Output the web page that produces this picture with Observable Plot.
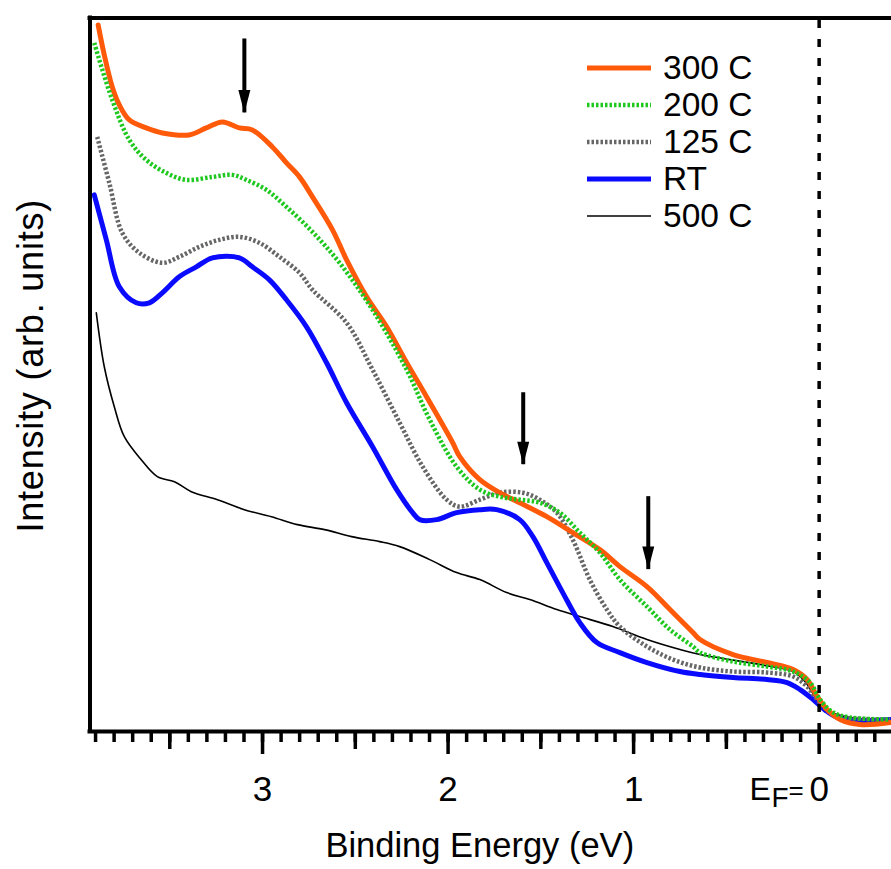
<!DOCTYPE html>
<html><head><meta charset="utf-8">
<script src="https://cdn.jsdelivr.net/npm/d3@7"></script>
<script src="https://cdn.jsdelivr.net/npm/@observablehq/plot@0.6"></script>
<style>
body{margin:0;background:#fff;font-family:"Liberation Sans",Arial,sans-serif}
#wrap{position:relative;width:891px;height:869px;overflow:hidden}
#legend{position:absolute;left:587px;top:49px}
.row{display:flex;align-items:center;height:37px}
.row svg{width:64px;height:10px;margin-right:12px;flex:none}
.row span{font-size:33.5px;line-height:1;color:#000;white-space:nowrap}
</style></head><body><div id="wrap"><div id="legend"></div></div>
<script>
// Binding energy (eV) and intensity (arb. units)
const e300 = [3.886,3.853,3.810,3.772,3.718,3.627,3.540,3.395,3.303,3.216,3.125,3.055,2.947,2.871,2.801,2.731,2.623,2.547,2.439,2.331,2.223,2.116,1.975,1.937,1.829,1.722,1.614,1.468,1.328,1.182,1.074,0.928,0.804,0.680,0.642,0.464,0.281,0.140,0.065,0.011,-0.043,-0.113,-0.221,-0.383];
const i300 = [707,677,645,627,612,604,599,597,604,610,604,602,585,569,555,535,502,472,435,405,369,335,289,275,252,239,229,215,199,182,165,145,122,99,92,77,69,62,52,35,22,12,7,9];
const e200 = [3.907,3.810,3.718,3.627,3.519,3.411,3.270,3.162,3.087,2.979,2.871,2.731,2.585,2.407,2.223,2.099,1.954,1.829,1.722,1.614,1.506,1.398,1.290,1.182,1.074,0.928,0.804,0.680,0.642,0.464,0.281,0.140,0.049,-0.005,-0.076,-0.167,-0.383];
const i200 = [689,632,592,572,559,552,555,557,552,542,525,500,469,422,362,312,265,242,235,232,229,219,199,179,152,125,102,85,79,70,65,60,49,32,19,14,12];
const e125 = [3.891,3.826,3.756,3.664,3.540,3.449,3.341,3.233,3.125,3.017,2.909,2.801,2.731,2.547,2.407,2.261,2.137,2.008,1.937,1.829,1.722,1.597,1.506,1.414,1.328,1.236,1.144,1.074,0.928,0.788,0.642,0.464,0.281,0.140,0.065,0.011,-0.059,-0.140,-0.383];
const i125 = [595,549,499,479,469,475,485,492,495,489,475,459,442,409,362,309,265,232,225,232,239,239,232,219,192,152,122,105,85,72,64,60,59,55,45,32,19,14,12];
const eRT = [3.907,3.842,3.772,3.681,3.610,3.540,3.449,3.357,3.270,3.125,3.055,2.963,2.871,2.763,2.655,2.547,2.407,2.277,2.191,2.153,2.062,1.954,1.829,1.738,1.614,1.543,1.468,1.382,1.290,1.198,1.074,0.928,0.750,0.642,0.464,0.281,0.173,0.103,0.032,-0.043,-0.130,-0.383];
const iRT = [537,492,445,429,429,439,455,465,474,474,465,452,432,405,369,329,285,242,219,212,212,219,222,222,212,195,169,139,109,89,79,69,60,57,54,52,49,42,32,20,12,12];
const e500 = [3.896,3.853,3.799,3.745,3.654,3.567,3.475,3.384,3.243,3.098,2.952,2.812,2.666,2.520,2.369,2.261,2.099,1.954,1.829,1.684,1.560,1.414,1.290,1.112,0.928,0.750,0.642,0.318,0.140,0.076,0.022,-0.059,-0.167,-0.383];
const i500 = [419,365,325,295,272,255,250,240,232,222,215,207,202,195,190,185,172,159,152,139,132,122,115,105,92,82,77,67,60,50,35,20,14,12];

const seriesNames = ["300 C","200 C","125 C","RT","500 C"];
const seriesColors = ["#ff5a0a","#1ec81e","#666666","#0a0aff","#000000"];
const seriesWidths = [5,4.5,4.5,5,1.6];
const seriesDash = [null,"2.5,2","2.5,2",null,null];
const seriesE = [e300,e200,e125,eRT,e500];
const seriesI = [i300,i200,i125,iRT,i500];

// arrows marking features
const arrowE = [3.098,1.595,0.921];
const arrowTop = [693,339,235];
const arrowTip = [619,267,162];

const xTickLabels = ["3","2","1","0"];
const xTickValues = [3,2,1,0];

const series = seriesNames.map((name,k)=>({name,color:seriesColors[k],width:seriesWidths[k],dash:seriesDash[k],
  rows:seriesE[k].map((e,j)=>({e,v:seriesI[k][j]}))}));
const arrows = arrowE.map((e,j)=>({e,top:arrowTop[j],tip:arrowTip[j]}));
const minorTicks = d3.range(-3,40).map(i=>i/10);
const midTicks = d3.range(0,8).map(i=>i/2).filter(v=>v%1!==0);
const labels = xTickValues.map((x,j)=>({x,t:xTickLabels[j]}));

const drawOrder = [4,3,2,0,1];
const headSymbol = {draw(ctx){ctx.moveTo(0,11.5);ctx.lineTo(6,-11.5);ctx.lineTo(-6,-11.5);ctx.closePath();}};
const frameH = 713.5;

const plot = Plot.plot({
  width:891, height:869,
  marginLeft:89.5, marginRight:0, marginTop:17.5, marginBottom:138,
  style:{fontFamily:'"Liberation Sans", Arial, sans-serif', background:"#fff"},
  x:{domain:[3.93,-0.39], axis:null},
  y:{domain:[0,714], axis:null},
  marks:[
    ...drawOrder.map(k=>Plot.line(series[k].rows,{x:"e",y:"v",stroke:series[k].color,strokeWidth:series[k].width,
       strokeDasharray:series[k].dash, curve:"catmull-rom"})),
    Plot.ruleX([0],{y1:0,y2:714,stroke:"#000",strokeWidth:3.5,strokeDasharray:"8,11"}),
    Plot.ruleX(arrows,{x:"e",y1:"top",y2:"tip",stroke:"#000",strokeWidth:4}),
    Plot.dot(arrows,{x:"e",y:"tip",symbol:headSymbol,fill:"#000",stroke:null,dy:-11.5}),
    Plot.ruleX(minorTicks,{x:d=>d,insetTop:frameH,insetBottom:-11,stroke:"#000",strokeWidth:3.5}),
    Plot.ruleX(midTicks,{x:d=>d,insetTop:frameH,insetBottom:-18,stroke:"#000",strokeWidth:3.5}),
    Plot.ruleX(xTickValues,{x:d=>d,insetTop:frameH,insetBottom:-23,stroke:"#000",strokeWidth:3.5}),
    Plot.ruleY([0,714],{stroke:"#000",strokeWidth:4,strokeLinecap:"square"}),
    Plot.ruleX([3.93],{y1:0,y2:714,stroke:"#000",strokeWidth:4,strokeLinecap:"square"}),
    Plot.text(labels,{x:"x",text:"t",frameAnchor:"bottom",dy:58,fontSize:35,lineAnchor:"middle",fill:"#000"}),
    Plot.text(["E"],{x:()=>0,frameAnchor:"bottom",dy:58,dx:-59,fontSize:32,lineAnchor:"middle",fill:"#000"}),
    Plot.text(["F"],{x:()=>0,frameAnchor:"bottom",dy:67,dx:-39,fontSize:28,lineAnchor:"middle",fill:"#000"}),
    Plot.text(["="],{x:()=>0,frameAnchor:"bottom",dy:59,dx:-23,fontSize:26,lineAnchor:"middle",fill:"#000"}),
    Plot.text(["Binding Energy (eV)"],{frameAnchor:"bottom",dy:114,dx:-11,fontSize:34.5,lineAnchor:"middle",fill:"#000"}),
    Plot.text(["Intensity (arb. units)"],{frameAnchor:"left",textAnchor:"middle",rotate:-90,dx:-59,dy:-9,fontSize:36,lineAnchor:"middle",fill:"#000"})
  ]
});
// make sure the dotted series keep their dash pattern
const lineGroups = plot.querySelectorAll('g[aria-label="line"]');
drawOrder.forEach((k,idx)=>{
  const g = lineGroups[idx];
  if (g && series[k].dash) {
    g.querySelectorAll("path").forEach(p=>{p.style.strokeDasharray = series[k].dash; p.style.strokeLinecap="butt";});
  }
});
// slightly wider tracking for the y-axis title, as in the reference
plot.querySelectorAll('g[aria-label="text"] text').forEach(t=>{
  if (t.textContent.startsWith("Intensity")) t.style.letterSpacing = "0.8px";
});
const wrap = document.getElementById("wrap");
wrap.insertBefore(plot, wrap.firstChild);

const legend = document.getElementById("legend");
for (const s of series) {
  const row = document.createElement("div"); row.className="row";
  row.innerHTML = `<svg viewBox="0 0 64 10"><line x1="0" y1="5" x2="64" y2="5" stroke="${s.color}" stroke-width="${s.width}" ${s.dash?`stroke-dasharray="${s.dash}"`:""}/></svg><span>${s.name}</span>`;
  legend.appendChild(row);
}
</script></body></html>
